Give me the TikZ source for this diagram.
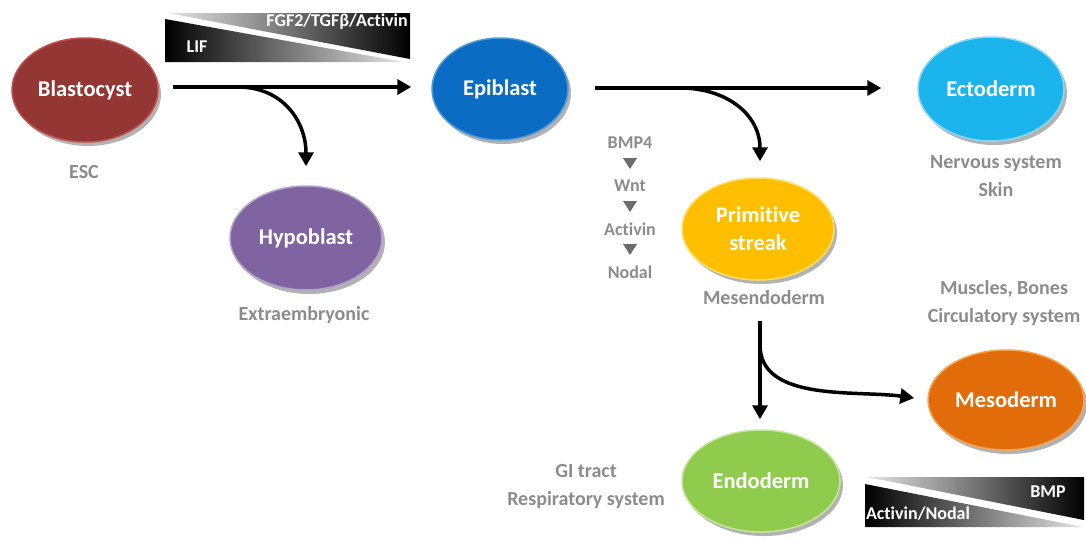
\documentclass[tikz,border=0pt]{standalone}
\usepackage{fontspec}
\setmainfont{Carlito}[Ligatures=NoCommon]
\usetikzlibrary{arrows.meta,shadows,calc,shapes.geometric}
\definecolor{cblast}{HTML}{943634}
\definecolor{cblastb}{HTML}{C0504D}
\definecolor{chypo}{HTML}{8064A2}
\definecolor{chypob}{HTML}{B3A2C7}
\definecolor{cepi}{HTML}{0A6CC2}
\definecolor{cepib}{HTML}{4F9BD9}
\definecolor{cecto}{HTML}{1CB4EC}
\definecolor{cectob}{HTML}{8AD8F5}
\definecolor{cprim}{HTML}{FFBF00}
\definecolor{cprimb}{HTML}{FFE066}
\definecolor{cmeso}{HTML}{E36C0A}
\definecolor{cmesob}{HTML}{F8A550}
\definecolor{cendo}{HTML}{8FCB4C}
\definecolor{cendob}{HTML}{C5E79B}
\definecolor{glabel}{HTML}{8C8C8C}
\tikzset{
  cell/.style={ellipse, draw=#1b, fill=#1, line width=1.5pt, minimum width=146pt, minimum height=104pt,
    inner sep=0pt, text=white, font=\bfseries\fontsize{22.5}{28}\selectfont, align=center,
    drop shadow={shadow xshift=3pt, shadow yshift=-4pt, opacity=0.3, fill=black}},
  glab/.style={text=glabel, font=\bfseries\fontsize{20}{28}\selectfont, align=center, inner sep=0pt},
  sig/.style={text=glabel, font=\bfseries\fontsize{18}{20}\selectfont, inner sep=0pt},
  btext/.style={text=white, font=\bfseries\fontsize{18}{20}\selectfont, inner sep=0pt},
  arr/.style={line width=3.5pt, -{Triangle[width=15pt,length=14pt]}},
  tri/.style={fill=gray!85!black, draw=none},
}
\begin{document}
\begin{tikzpicture}[x=1pt,y=-1pt]
\useasboundingbox (0,0) rectangle (1086,539);
\fill[white] (0,0) rectangle (1086,539);

% banners
\shade[left color=gray!20, right color=black] (168,13) -- (410,13) -- (410,59) -- cycle;
\shade[left color=black, right color=gray!20] (165,19) -- (165,62) -- (404,62) -- cycle;
\node[btext, anchor=east] (fgf) at (408,22) {FGF2/TGFβ/Activin};
\node[btext] (lif) at (197,47) {LIF};

\shade[left color=gray!20, right color=black] (867,477) -- (1084,477) -- (1084,520) -- cycle;
\shade[left color=black, right color=gray!20] (865,484) -- (865,527) -- (1083,527) -- cycle;
\node[btext] (bmp) at (1048,492) {BMP};
\node[btext] (actnod) at (918,514) {Activin/Nodal};

% cells
\node[cell=cblast] (blast) at (85,90) {Blastocyst};
\node[cell=chypo, minimum width=152pt] (hypo) at (306,238) {Hypoblast};
\node[cell=cepi, minimum width=136pt, minimum height=102pt] (epi) at (500,89) {Epiblast};
\node[cell=cecto] (ecto) at (991,89) {Ectoderm};
\node[cell=cprim, minimum width=152pt, minimum height=102pt] (prim) at (758,229) {Primitive\\streak};
\node[cell=cmeso, minimum width=156pt, minimum height=100pt] (meso) at (1006,400) {Mesoderm};
\node[cell=cendo, minimum width=158pt, minimum height=102pt] (endo) at (761,481) {Endoderm};

% labels
\node[glab] (esc) at (84,172) {ESC};
\node[glab] (extra) at (304,315) {Extraembryonic};
\node[glab] (nerv) at (996,176) {Nervous system\\Skin};
\node[glab] (mesen) at (764,298) {Mesendoderm};
\node[glab] (musc) at (1004,303) {Muscles, Bones\\Circulatory system};
\node[glab] (gi) at (586,487) {GI tract\\Respiratory system};

% signalling cascade
\node[sig] (bmp4) at (630,143) {BMP4};
\node[sig] (wnt) at (630,186) {Wnt};
\node[sig] (act) at (630,229) {Activin};
\node[sig] (nod) at (630,272) {Nodal};
\fill[tri] (623,158) -- (637,158) -- (630,169) -- cycle;
\fill[tri] (623,201) -- (637,201) -- (630,212) -- cycle;
\fill[tri] (623,244) -- (637,244) -- (630,255) -- cycle;

% arrows
\coordinate (b1) at (238,87);
\coordinate (e1) at (680,88);
\coordinate (mtop) at (760,321);
\coordinate (m1) at (760,345);
\draw[arr] ($(blast.east)+(14,-3)$) -- ($(epi.west)+(-20,-2)$);
\draw[arr] (b1) to[out=0,in=90,looseness=1.1] ($(hypo.north)+(0,-19)$);
\draw[arr] ($(epi.east)+(26,-1)$) -- ($(ecto.west)+(-36,-1)$);
\draw[arr] (e1) to[out=0,in=90,looseness=1.1] ($(prim.north)+(2,-16)$);
\draw[arr] (mtop) -- ($(endo.north)+(-1,-10)$);
\draw[arr] (m1) to[out=-90,in=172,looseness=0.9] ($(meso.west)+(-13,-2)$);
\end{tikzpicture}
\end{document}
